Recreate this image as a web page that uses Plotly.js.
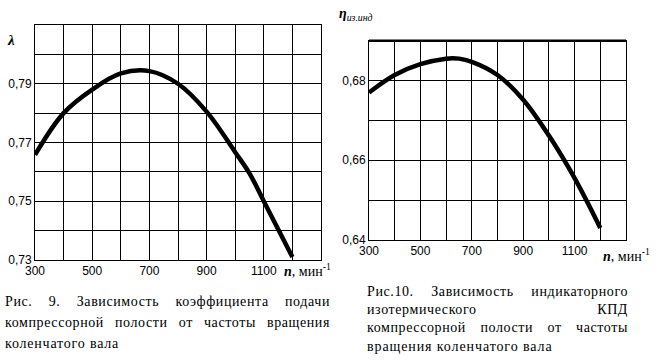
<!DOCTYPE html>
<html><head><meta charset="utf-8">
<script src="https://cdn.plot.ly/plotly-3.0.1.min.js"></script>
<style>
html,body{margin:0;padding:0;background:#fff;}
#wrap{position:relative;width:668px;height:363px;overflow:hidden;}
#chart{position:absolute;left:0;top:0;width:668px;height:363px;}
.cap{position:absolute;font-family:"Liberation Serif","Times New Roman",serif;font-size:14px;color:#000;white-space:nowrap;}
.j{text-align:justify;text-align-last:justify;white-space:normal;}
</style></head>
<body><div id="wrap"><div id="chart"></div>
<div class="cap j" style="left:5px;top:294px;width:325px;letter-spacing:0.6px;">Рис. 9. Зависимость коэффициента подачи</div>
<div class="cap j" style="left:5px;top:315px;width:325px;letter-spacing:0.6px;">компрессорной полости от частоты вращения</div>
<div class="cap" style="left:5px;top:336px;letter-spacing:0.8px;">коленчатого вала</div>
<div class="cap j" style="left:367px;top:284px;width:261px;letter-spacing:0.6px;">Рис.10. Зависимость индикаторного</div>
<div class="cap j" style="left:367px;top:302px;width:261px;letter-spacing:0.6px;">изотермического КПД</div>
<div class="cap j" style="left:367px;top:320px;width:261px;letter-spacing:0.6px;">компрессорной полости от частоты</div>
<div class="cap" style="left:367px;top:339px;letter-spacing:0.9px;">вращения коленчатого вала</div>
</div>
<script>
// Fig. 9: volumetric coefficient lambda vs n
const n1 = [300, 400, 500, 600, 700, 800, 900, 1000, 1050, 1100, 1200];
const lambda1 = [0.7658, 0.7800, 0.7880, 0.7935, 0.7943, 0.7900, 0.7805, 0.7667, 0.7595, 0.7500, 0.7310];
// Fig. 10: indicator isothermal efficiency vs n
const n2 = [300, 400, 500, 600, 650, 700, 800, 900, 1000, 1100, 1200];
const eta2 = [0.6770, 0.6814, 0.6841, 0.6855, 0.6855, 0.6847, 0.6814, 0.6752, 0.6662, 0.6555, 0.6430];

const xTicks = [300, 500, 700, 900, 1100];
const xTickText = ['300', '500', '700', '900', '1100'];
const xGrid = [300, 400, 500, 600, 700, 800, 900, 1000, 1100, 1200, 1300];
const y1Ticks = [0.73, 0.75, 0.77, 0.79];
const y1TickText = ['0,73', '0,75', '0,77', '0,79'];
const y1Grid = [0.73, 0.74, 0.75, 0.76, 0.77, 0.78, 0.79, 0.80, 0.81];
const y2Ticks = [0.64, 0.66, 0.68];
const y2TickText = ['0,64', '0,66', '0,68'];
const y2Grid = [0.64, 0.65, 0.66, 0.67, 0.68, 0.69];

const W = 668, H = 363;
const px = v => v / W, py = v => 1 - v / H;
const tickFont = {family: 'Liberation Sans, Arial, sans-serif', size: 12, color: '#000'};

function ax(ticks, text, grid, extra) {
  return Object.assign({
    tickmode: 'array', tickvals: ticks, ticktext: text,
    showgrid: true, gridcolor: '#000', gridwidth: 1,
    minor: {tickmode: 'array', tickvals: grid, showgrid: true, gridcolor: '#000', gridwidth: 1, ticks: ''},
    showline: true, linecolor: '#000', linewidth: 1, mirror: true,
    zeroline: false, ticks: '', tickfont: tickFont, fixedrange: true
  }, extra);
}

const traces = [
  {x: n1, y: lambda1, xaxis: 'x', yaxis: 'y', mode: 'lines',
   line: {color: '#000', width: 4.5, shape: 'spline', smoothing: 1}, hoverinfo: 'skip'},
  {x: n2, y: eta2, xaxis: 'x2', yaxis: 'y2', mode: 'lines',
   line: {color: '#000', width: 4.5, shape: 'spline', smoothing: 1}, hoverinfo: 'skip'}
];

const layout = {
  width: W, height: H, margin: {l: 0, r: 0, t: 0, b: 0},
  paper_bgcolor: '#fff', plot_bgcolor: '#fff', showlegend: false,
  xaxis: ax(xTicks, xTickText, xGrid, {domain: [px(35), px(321)], range: [300, 1300], anchor: 'y'}),
  yaxis: ax(y1Ticks, y1TickText, y1Grid, {domain: [py(260), py(25)], range: [0.73, 0.81], anchor: 'x'}),
  xaxis2: ax(xTicks, xTickText, xGrid, {domain: [px(369), px(626)], range: [300, 1300], anchor: 'y2'}),
  yaxis2: ax(y2Ticks, y2TickText, y2Grid, {domain: [py(240), py(40.7)], range: [0.64, 0.69], anchor: 'x2'}),
  shapes: [
    {type: 'line', xref: 'x2 domain', yref: 'y2 domain', x0: 0, x1: 1, y0: 1, y1: 1, line: {color: '#000', width: 2.5}}
  ],
  annotations: [
    {xref: 'paper', yref: 'paper', x: px(11), y: py(40), text: '<b><i>λ</i></b>', showarrow: false,
     font: {family: 'Liberation Serif, serif', size: 15, color: '#000'}, xanchor: 'center', yanchor: 'middle'},
    {xref: 'paper', yref: 'paper', x: px(282), y: py(270), text: '<b><i>n</i></b>, мин<sup>-1</sup>', showarrow: false,
     font: {family: 'Liberation Serif, serif', size: 14, color: '#000'}, xanchor: 'left', yanchor: 'middle'},
    {xref: 'paper', yref: 'paper', x: px(337), y: py(15), text: '<b><i>η</i></b><sub><i>из.инд</i></sub>', showarrow: false,
     font: {family: 'Liberation Serif, serif', size: 14, color: '#000'}, xanchor: 'left', yanchor: 'middle'},
    {xref: 'paper', yref: 'paper', x: px(601), y: py(255), text: '<b><i>n</i></b>, мин<sup>-1</sup>', showarrow: false,
     font: {family: 'Liberation Serif, serif', size: 14, color: '#000'}, xanchor: 'left', yanchor: 'middle'}
  ]
};

Plotly.newPlot('chart', traces, layout, {staticPlot: true, displayModeBar: false});
</script>
</body></html>
